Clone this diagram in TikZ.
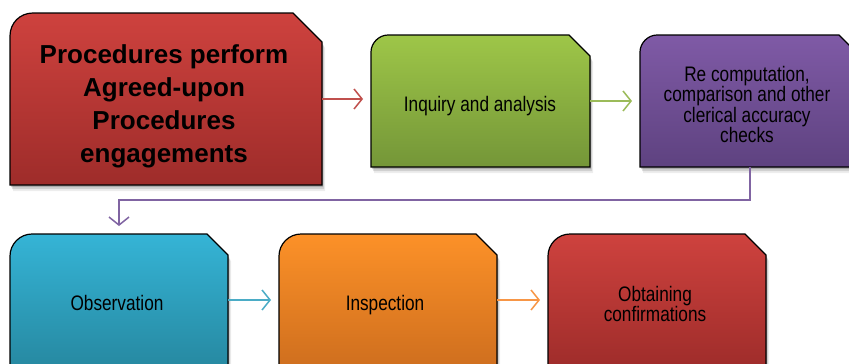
\documentclass[tikz,border=0pt]{standalone}
\usepackage{fontspec}
\setmainfont{Liberation Sans}
\newfontfamily\narrowfont[FakeStretch=0.82]{Liberation Sans}
\usetikzlibrary{arrows.meta,shadows}

\definecolor{redT}{RGB}{206,66,62}
\definecolor{redB}{RGB}{158,44,42}
\definecolor{greenT}{RGB}{158,198,72}
\definecolor{greenB}{RGB}{116,150,56}
\definecolor{purpleT}{RGB}{127,90,166}
\definecolor{purpleB}{RGB}{94,66,128}
\definecolor{blueT}{RGB}{53,180,214}
\definecolor{blueB}{RGB}{38,136,160}
\definecolor{orangeT}{RGB}{252,145,40}
\definecolor{orangeB}{RGB}{206,110,30}
\definecolor{arrRed}{HTML}{C0504D}
\definecolor{arrGreen}{HTML}{9BBB59}
\definecolor{arrPurple}{HTML}{8064A2}
\definecolor{arrBlue}{HTML}{4BACC6}
\definecolor{arrOrange}{HTML}{F79646}

\tikzset{
  boxnode/.style={draw=none, inner sep=0pt, outer sep=0pt},
  boxshade/.style={draw=black, line width=1.2pt,
    drop shadow={shadow xshift=1pt, shadow yshift=-2pt, opacity=0.18, fill=black},
    drop shadow={shadow xshift=2pt, shadow yshift=-4pt, opacity=0.12, fill=black},
    drop shadow={shadow xshift=3pt, shadow yshift=-6pt, opacity=0.07, fill=black}},
  arr/.style={line width=1.5pt, -{Straight Barb[length=8pt,width=20pt]}, shorten >=8pt},
  titletext/.style={font=\bfseries\fontsize{26}{33.3}\selectfont, align=center, inner sep=0pt, text=black},
  bodytext/.style={font=\narrowfont\fontsize{21}{20.5}\selectfont, align=center, inner sep=0pt, text=black}
}

% #1 node, #2 top colour, #3 bottom colour, #4 cut, #5 radius, #6 control offset
\newcommand{\tabbox}[6]{%
  \shade[boxshade, top color=#2, bottom color=#3]
    (#1.south west) -- ([yshift=-#5pt]#1.north west)
    .. controls ([yshift=-#6pt]#1.north west) and ([xshift=#6pt]#1.north west) ..
    ([xshift=#5pt]#1.north west) -- ([xshift=-#4pt]#1.north east)
    -- ([yshift=-#4pt]#1.north east) -- (#1.south east) -- cycle;}

\begin{document}
\begin{tikzpicture}[x=1pt,y=-1pt]
\useasboundingbox (0,0) rectangle (849,364);
\clip (0,0) rectangle (849,364);

\node[boxnode, minimum width=312pt, minimum height=172pt] (A) at (166,99) {};
\node[boxnode, minimum width=219pt, minimum height=132pt] (B) at (480.5,101) {};
\node[boxnode, minimum width=220pt, minimum height=132pt] (C) at (750,101) {};
\node[boxnode, minimum width=218pt, minimum height=136pt] (D) at (119,302) {};
\node[boxnode, minimum width=218pt, minimum height=136pt] (E) at (388,302) {};
\node[boxnode, minimum width=218pt, minimum height=136pt] (F) at (657,302) {};

\tabbox{A}{redT}{redB}{29}{23}{10}
\tabbox{B}{greenT}{greenB}{21}{17}{8}
\tabbox{C}{purpleT}{purpleB}{21}{17}{8}
\tabbox{D}{blueT}{blueB}{21}{22}{10}
\tabbox{E}{orangeT}{orangeB}{21}{22}{10}
\tabbox{F}{redT}{redB}{21}{22}{10}

\draw[arr, arrRed] (A.east) -- (A.east -| B.west);
\draw[arr, arrGreen] (B.east) -- (B.east -| C.west);
\draw[arr, arrPurple] (C.south) -- ++(0,33) -| (D.north);
\draw[arr, arrBlue] ([yshift=2pt]D.east) -- ([yshift=2pt]D.east -| E.west);
\draw[arr, arrOrange] ([yshift=2pt]E.east) -- ([yshift=2pt]E.east -| F.west);

\node[titletext, anchor=north] (At) at (164,44) {Procedures perform\\Agreed-upon\\Procedures\\engagements};
\node[bodytext, anchor=base] (Bt) at (480,111) {Inquiry and analysis};
\node[bodytext, anchor=north] (Ct) at (747,66) {Re computation,\\comparison and other\\clerical accuracy\\checks};
\node[bodytext, anchor=base] (Dt) at (117,310) {Observation};
\node[bodytext, anchor=base] (Et) at (385,310) {Inspection};
\node[bodytext, anchor=north] (Ft) at (655,286) {Obtaining\\confirmations};
\end{tikzpicture}
\end{document}
